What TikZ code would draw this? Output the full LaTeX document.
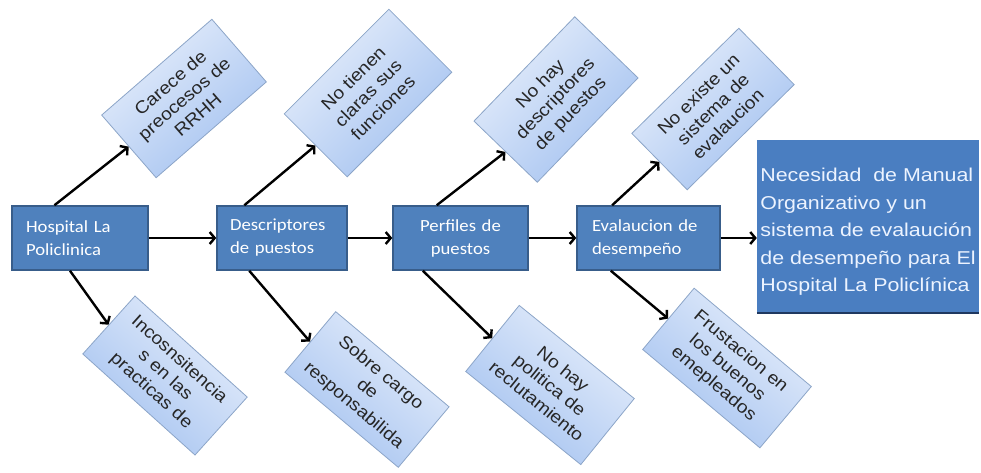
\documentclass[tikz,border=0pt]{standalone}
\usepackage{fontspec}
\usepackage{xcolor}
\usepackage{tikz}
\usetikzlibrary{arrows.meta,calc}
\newfontfamily\calibri[FakeStretch=1.1]{Carlito}
\newfontfamily\arial[FakeStretch=1.1]{Liberation Sans}
\newfontfamily\arialwide[FakeStretch=1.15]{Liberation Sans}
\definecolor{mainfill}{RGB}{79,129,189}
\definecolor{maindraw}{RGB}{56,93,138}
\definecolor{goalfill}{RGB}{74,126,193}
\definecolor{goaldraw}{RGB}{31,56,96}
\definecolor{goaltext}{RGB}{236,243,255}
\definecolor{causelight}{RGB}{230,238,251}
\definecolor{causedark}{RGB}{164,194,240}
\definecolor{causedraw}{RGB}{140,165,200}
\definecolor{causetext}{RGB}{38,38,38}
\tikzset{
  mainbox/.style={draw=maindraw, line width=1.5pt, fill=mainfill, text=white, align=left,
    minimum height=64pt, inner xsep=14pt, inner ysep=0pt, font=\calibri\fontsize{17}{23}\selectfont},
  goalbox/.style={fill=goalfill, text=goaltext, align=left, inner sep=0pt,
    minimum width=222pt, minimum height=173pt, font=\arialwide\fontsize{18.6}{27.5}\selectfont},
  % causas
  cause/.style={draw=causedraw, line width=0.8pt, top color=causelight, bottom color=causedark,
    text=causetext, align=center, inner sep=0pt, font=\arial\fontsize{17.5}{21}\selectfont,
    rotate=#1, shading angle=#1},
  flow/.style={draw=black, line width=2.4pt, -{Straight Barb[length=5pt,width=12pt]}}
}
\begin{document}
\begin{tikzpicture}[x=1pt,y=-1pt]
    \useasboundingbox (0,0) rectangle (981,472);
    % cadena principal
    \node[mainbox, text width=108pt] (hosp) at (80,238) {Hospital La\\Policlinica};
    \node[mainbox, text width=104pt, inner xsep=13pt] (desc) at (282,238) {Descriptores\\de puestos};
    \node[mainbox, text width=107pt, align=center] (perf) at (460.5,238) {Perfiles de\\puestos};
    \node[mainbox, text width=113pt, inner xsep=15pt] (eval) at (648.5,238) {Evalaucion de\\desempeño};
    \node[goalbox] (goal) at (868,226.5) {\rule{0pt}{24pt}Necesidad\ \ de Manual\\Organizativo y un\\sistema de evalaución\\de desempeño para El\\Hospital La Policlínica};
    \draw[goaldraw, line width=2pt] (goal.south west) -- (goal.south east);
    % causas arriba
    \node[cause=41, minimum width=146pt, minimum height=83pt] (up1) at (184,98.5) {Carece de\\preocesos de\\RRHH};
    \node[cause=45, minimum width=148pt, minimum height=89pt] (up2) at (368,93) {No tienen\\claras sus\\funciones};
    \node[cause=46, minimum width=145pt, minimum height=88pt] (up3) at (556,99.5) {No hay\\descriptores\\de puestos};
    \node[cause=44.5, minimum width=150pt, minimum height=79pt] (up4) at (713,109) {No existe un\\sistema de\\evalaucion};
    % causas abajo
    \node[cause=-42, minimum width=151pt, minimum height=78pt] (down1) at (165,375.5) {Incosnsitencia\\s en las\\practicas de};
    \node[cause=-40, minimum width=148pt, minimum height=79pt] (down2) at (367,389.5) {Sobre cargo\\de\\responsabilida};
    \node[cause=-39, minimum width=148pt, minimum height=85pt] (down3) at (550,385) {No hay\\politica de\\reclutamiento};
    \node[cause=-40, minimum width=153pt, minimum height=80pt] (down4) at (727,368) {Frustacion en\\los buenos\\emepleados};
    % flechas
    \draw[flow] (hosp) -- (desc);
    \draw[flow] (desc) -- (perf);
    \draw[flow] (perf) -- (eval);
    \draw[flow] (eval) -- (eval -| goal.west);
    \draw[flow] (hosp.128) -- (up1.west);
    \draw[flow] (desc.139) -- (up2.west);
    \draw[flow] (perf.126) -- (up3.west);
    \draw[flow] (eval.138) -- (up4.west);
    \draw[flow] (hosp.253) -- (down1.west);
    \draw[flow] (desc.225) -- (down2.west);
    \draw[flow] (perf.221) -- (down3.west);
    \draw[flow] (eval.221) -- (down4.west);
\end{tikzpicture}
\end{document}
